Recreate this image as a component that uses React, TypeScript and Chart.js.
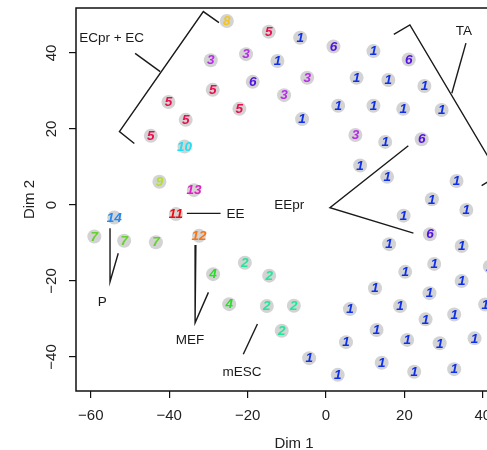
import React, { useEffect, useRef } from 'react';
import { Chart, registerables } from 'chart.js';
Chart.register(...registerables);

// axis ticks
const xTicks = [-60, -40, -20, 0, 20, 40];
const yTicks = [-40, -20, 0, 20, 40];
const fmt = (v: number) => (v < 0 ? '\u2212' + Math.abs(v) : String(v));

// cluster points [Dim 1, Dim 2]
const g1 = [
  [-6.6, 44.0], [12.1, 40.5], [-12.4, 37.9], [7.8, 33.5], [15.9, 32.9], [25.1, 31.3],
  [3.1, 26.1], [12.1, 26.1], [19.7, 25.3], [29.5, 25.0], [-6.1, 22.6], [15.1, 16.6],
  [8.7, 10.4], [15.6, 7.4], [33.3, 6.3], [27.0, 1.5], [35.8, -1.3], [19.8, -2.8],
  [16.1, -10.3], [34.6, -10.8], [27.6, -15.5], [20.2, -17.6], [34.6, -20.0], [12.5, -21.9],
  [26.4, -23.2], [6.1, -27.4], [18.9, -26.6], [25.4, -30.1], [32.7, -28.8], [40.6, -26.2],
  [12.9, -32.9], [5.1, -36.1], [20.7, -35.5], [29.0, -36.4], [37.9, -35.1], [-4.3, -40.3],
  [3.0, -44.7], [14.2, -41.5], [22.5, -43.9], [32.7, -43.2], [41.8, -16.2],
];
const g2 = [[-20.7, -15.2], [-14.5, -18.6], [-15.1, -26.6], [-8.2, -26.5], [-11.3, -33.1]];
const g3 = [[-29.4, 38.1], [-20.4, 39.7], [-4.8, 33.5], [-10.7, 28.9], [7.5, 18.4]];
const g4 = [[-28.8, -18.2], [-24.7, -26.1]];
const g5 = [[-14.6, 45.6], [-28.9, 30.3], [-40.2, 27.1], [-22.1, 25.3], [-35.8, 22.4], [-44.7, 18.2]];
const g6 = [[1.9, 41.7], [21.1, 38.3], [-18.7, 32.4], [24.4, 17.3], [26.5, -7.7]];
const g7 = [[-59.1, -8.3], [-51.5, -9.4], [-43.4, -9.8]];
const g8 = [[-25.3, 48.4]];
const g9 = [[-42.5, 6.1]];
const g10 = [[-36.1, 15.4]];
const g11 = [[-38.3, -2.4]];
const g12 = [[-32.4, -8.1]];
const g13 = [[-33.7, 3.9]];
const g14 = [[-54.0, -3.3]];

const groupLabels = ['1', '2', '3', '4', '5', '6', '7', '8', '9', '10', '11', '12', '13', '14'];
const groupColors = [
  '#1030e6', '#22e69a', '#b52ee8', '#2bdc2b', '#e8104f', '#5212e0', '#66d02e',
  '#f2c41c', '#b2e02c', '#1ee0f2', '#ea0c12', '#f2761a', '#e21ec6', '#2289f2',
];
const groupPoints = [g1, g2, g3, g4, g5, g6, g7, g8, g9, g10, g11, g12, g13, g14];

// annotation brackets / leaders
const ecBracket = [[-27.3, 48.0], [-31.3, 50.9], [-52.7, 19.3], [-48.9, 16.2]];
const ecLeader = [[-42.3, 35.1], [-48.7, 39.9]];
const taBracket = [[17.3, 44.9], [21.4, 47.4], [44.1, 7.9], [39.7, 5.1]];
const taLeader = [[32.1, 29.4], [35.7, 42.6]];
const eeprBracket = [[21.0, 15.6], [1.0, -0.7], [22.3, -7.4]];
const eeLine = [[-35.5, -2.2], [-26.9, -2.2]];
const pBracket = [[-55.1, -6.1], [-55.1, -20.2], [-53.0, -12.7]];
const mefBracket = [[-33.2, -10.5], [-33.4, -31.0], [-30.0, -23.0]];
const mescLine = [[-17.5, -31.3], [-21.1, -39.3]];
const lineSets = [ecBracket, ecLeader, taBracket, taLeader, eeprBracket, eeLine, pBracket, mefBracket, mescLine];

// annotation labels
const annoText = ['ECpr + EC', 'TA', 'EEpr', 'EE', 'P', 'MEF', 'mESC'];
const annoX = [-54.7, 35.2, -9.4, -23.1, -57.1, -34.7, -21.4];
const annoY = [43.9, 45.6, -0.2, -2.4, -25.6, -35.5, -44.0];

const FONT = '"Liberation Sans", Arial, Helvetica, sans-serif';

export default function App() {
  const ref = useRef<HTMLCanvasElement | null>(null);
  useEffect(() => {
    if (!ref.current) return;
    const pointSets = groupPoints.map((pts, i) => ({
      type: 'scatter' as const,
      label: groupLabels[i],
      numLabel: groupLabels[i],
      numColor: groupColors[i],
      data: pts.map(([x, y]) => ({ x, y })),
      pointRadius: 7,
      pointBackgroundColor: '#d3d3d3',
      pointBorderWidth: 0,
      showLine: false,
    }));
    const lineDs = lineSets.map((pts) => ({
      type: 'scatter' as const,
      label: '',
      data: pts.map(([x, y]) => ({ x, y })),
      showLine: true,
      pointRadius: 0,
      borderColor: '#1a1a1a',
      borderWidth: 1.4,
      fill: false,
      tension: 0,
    }));

    const overlay = {
      id: 'overlay',
      afterDatasetsDraw(chart: any) {
        const ctx = chart.ctx;
        const { left, top, right, bottom } = chart.chartArea;
        const xs = chart.scales.x;
        const ys = chart.scales.y;
        ctx.save();
        // point labels
        chart.data.datasets.forEach((ds: any, di: number) => {
          if (!ds.numLabel) return;
          const meta = chart.getDatasetMeta(di);
          ctx.font = `italic bold 13.5px ${FONT}`;
          ctx.fillStyle = ds.numColor;
          ctx.textAlign = 'center';
          ctx.textBaseline = 'middle';
          meta.data.forEach((el: any) => {
            ctx.fillText(ds.numLabel, el.x, el.y + 0.5);
          });
        });
        // annotation labels
        ctx.font = `13.5px ${FONT}`;
        ctx.fillStyle = '#1a1a1a';
        ctx.textAlign = 'center';
        ctx.textBaseline = 'middle';
        annoText.forEach((t, i) => {
          ctx.fillText(t, xs.getPixelForValue(annoX[i]), ys.getPixelForValue(annoY[i]));
        });
        // box
        ctx.strokeStyle = '#111';
        ctx.lineWidth = 1.5;
        ctx.strokeRect(left, top, right - left, bottom - top);
        // y tick labels (rotated like R)
        ctx.font = `15px ${FONT}`;
        ctx.fillStyle = '#222';
        yTicks.forEach((v) => {
          const py = ys.getPixelForValue(v);
          ctx.save();
          ctx.translate(52, py);
          ctx.rotate(-Math.PI / 2);
          ctx.textAlign = 'center';
          ctx.textBaseline = 'middle';
          ctx.fillText(fmt(v), 0, 0);
          ctx.restore();
        });
        ctx.restore();
      },
    };

    const chart = new Chart(ref.current, {
      type: 'scatter',
      data: { datasets: [...pointSets, ...lineDs] as any },
      options: {
        animation: false,
        responsive: false,
        events: [],
        layout: { padding: { top: 8, right: 8, left: 0, bottom: 0 } },
        plugins: { legend: { display: false }, tooltip: { enabled: false } },
        scales: {
          x: {
            type: 'linear',
            min: -63.78,
            max: 47.45,
            afterBuildTicks: (s: any) => { s.ticks = xTicks.map((value) => ({ value })); },
            afterFit: (s: any) => { s.height = 59; },
            grid: { drawOnChartArea: false, drawTicks: true, tickLength: 7, color: '#111', lineWidth: 1.2 },
            border: { display: false },
            ticks: {
              color: '#222',
              padding: 9,
              maxRotation: 0,
              font: { family: FONT, size: 15 },
              callback: (v: any) => fmt(Number(v)),
            },
            title: {
              display: true,
              text: 'Dim 1',
              color: '#222',
              font: { family: FONT, size: 15, lineHeight: 0.85 },
              padding: { top: 0, bottom: 0 },
            },
          },
          y: {
            type: 'linear',
            min: -48.95,
            max: 51.84,
            afterBuildTicks: (s: any) => { s.ticks = yTicks.map((value) => ({ value })); },
            afterFit: (s: any) => { s.width = 76; },
            grid: { drawOnChartArea: false, drawTicks: true, tickLength: 7, color: '#111', lineWidth: 1.2 },
            border: { display: false },
            ticks: { display: false },
            title: {
              display: true,
              text: 'Dim 2',
              color: '#222',
              font: { family: FONT, size: 15, lineHeight: 1 },
              padding: { top: 22, bottom: 0 },
            },
          },
        },
      },
      plugins: [overlay],
    });
    return () => chart.destroy();
  }, []);

  return (
    <div style={{ position: 'fixed', left: 0, top: 0, width: 487, height: 450, overflow: 'hidden', background: '#fff' }}>
      <canvas ref={ref} width={520} height={450} style={{ width: 520, height: 450, display: 'block' }} />
    </div>
  );
}
